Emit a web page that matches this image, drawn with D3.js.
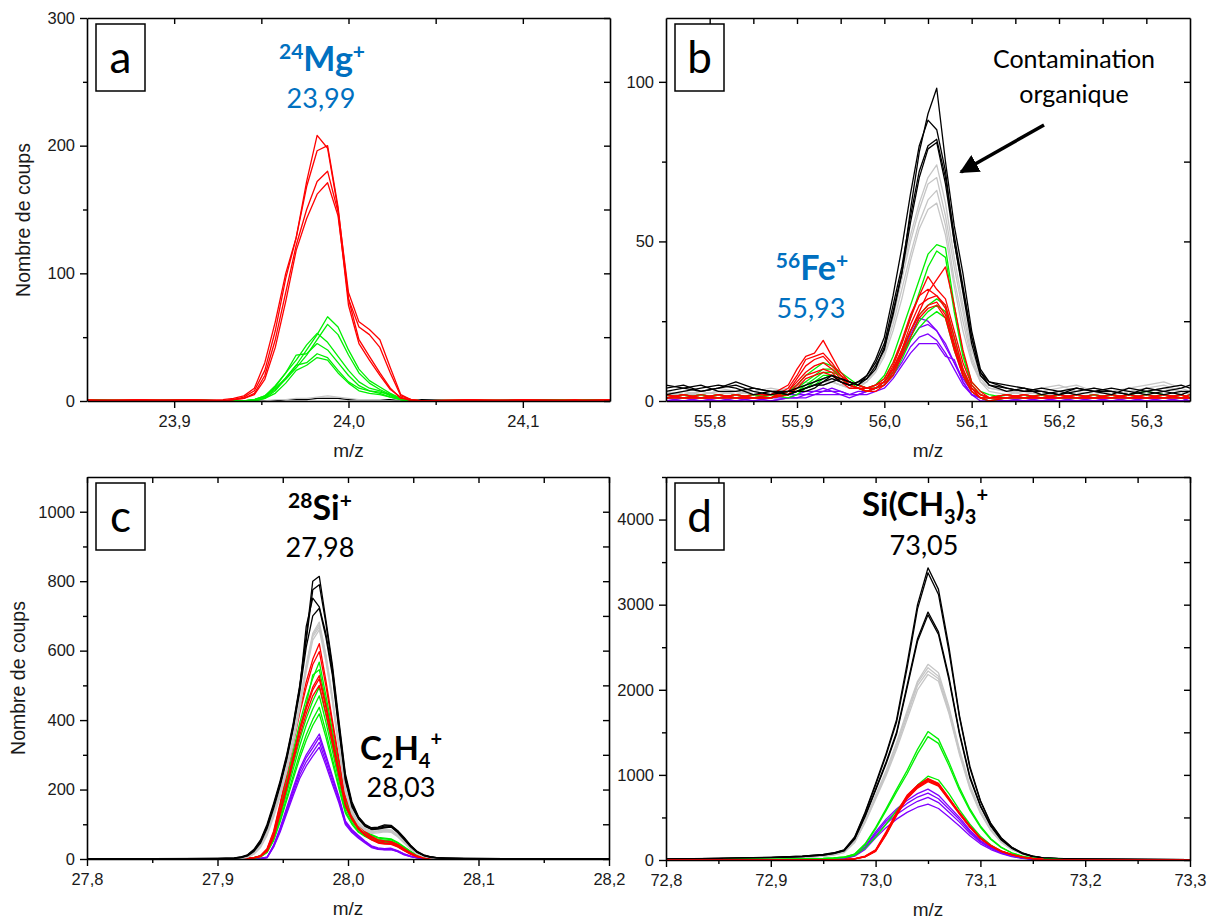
<!DOCTYPE html>
<html><head><meta charset="utf-8">
<script src="https://cdn.jsdelivr.net/npm/d3@7"></script>
<style>body{margin:0;background:#fff}</style>
</head><body><svg id="c" width="1210" height="921"></svg>
<script>
// ---------------- Panel a : 24Mg+ ----------------
const aMz = [23.850,23.880,23.910,23.928,23.934,23.940,23.946,23.952,23.958,23.964,23.970,23.976,23.982,23.988,23.994,24.000,24.006,24.012,24.018,24.024,24.030,24.036,24.042,24.070,24.100,24.130,24.150];
const aRed = [
 [0,1,0,1,2,4,10,30,62,100,128,172,208,198,150,85,62,56,48,26,5,1,0,1,0,1,0],
 [1,0,1,0,1,3,8,24,55,96,128,168,196,200,152,80,58,52,42,22,4,1,0,0,1,0,1],
 [0,0,1,0,1,2,6,20,48,85,122,150,172,180,148,75,45,32,20,9,3,0,0,1,0,0,1],
 [0,1,0,0,1,2,5,17,42,78,118,143,162,171,145,80,48,35,22,10,2,1,0,0,1,0,0]];
const aGreen = [
 [0,0,0,0,0,0,1,4,10,18,28,40,52,66,58,40,25,16,11,6,2,1,0,0,0,1,0],
 [0,0,1,0,0,0,1,3,9,17,26,36,48,60,52,36,22,14,9,5,2,0,0,0,1,0,0],
 [0,1,0,0,0,0,1,4,12,22,32,44,53,46,35,24,15,10,8,4,1,0,0,0,0,0,1],
 [0,0,0,0,0,0,1,3,11,22,36,37,45,40,30,20,12,8,7,5,1,0,0,1,0,0,0],
 [1,0,0,0,0,0,0,2,8,18,28,30,37,34,24,15,10,8,6,3,1,0,0,0,0,1,0],
 [0,0,0,0,0,0,0,2,6,14,24,28,34,32,22,14,8,6,5,3,1,0,0,0,0,0,0]];
const aGray = [[0,0,0,0,0,0,0,0,1,1,2,2,3,4,3,2,1,1,1,0,0,0,0,0,0,0,0]];
const aBlack = [[1,0,1,0,0,0,0,0,0,1,1,1,2,2,2,1,1,1,1,1,0,0,1,0,1,1,1]];
const aXTicks = [23.9,24.0,24.1], aXMinor = [23.95,24.05];
const aYTicks = [0,100,200,300], aYMinor = [50,150,250];

// ---------------- Panel b : 56Fe+ ----------------
const bMz = [55.75,55.77,55.79,55.81,55.83,55.85,55.87,55.89,55.90,55.91,55.92,55.93,55.94,55.95,55.96,55.97,55.98,55.99,56.00,56.01,56.02,56.03,56.04,56.05,56.06,56.07,56.08,56.09,56.10,56.11,56.12,56.14,56.16,56.18,56.20,56.22,56.24,56.26,56.28,56.30,56.32,56.34,56.35];
const bBlack = [
 [4,5,3,4,5,3,2,3,3,4,5,5,6,7,6,5,7,10,17,27,40,60,78,90,98,75,55,40,22,10,6,5,4,3,2,3,4,3,2,3,4,5,4],
 [3,4,5,3,3,4,3,2,3,4,5,6,7,6,5,6,8,12,18,30,42,58,72,80,82,70,52,36,20,9,6,4,3,4,3,2,3,4,3,2,3,4,5],
 [2,3,4,5,4,2,3,3,4,5,6,7,8,6,5,6,7,11,16,28,40,56,70,79,81,68,50,34,18,8,5,3,4,2,3,4,3,2,4,3,2,3,3],
 [5,4,3,4,6,4,3,2,3,3,4,6,8,7,6,5,8,13,20,33,48,65,80,88,85,72,50,35,20,9,5,4,3,3,2,4,3,3,2,4,3,2,3]];
const bGray = [
 [3,2,3,4,3,2,3,4,5,6,5,6,7,6,5,6,8,12,18,28,40,52,62,70,74,62,45,30,16,8,5,4,3,4,5,3,4,3,4,5,6,4,3],
 [2,3,2,3,2,3,4,3,4,5,6,7,6,5,6,5,7,11,16,26,38,50,60,68,70,58,42,28,14,7,4,3,2,3,4,5,3,2,3,4,5,3,2],
 [2,2,3,2,3,3,2,3,4,4,5,6,6,5,4,5,6,10,15,24,35,46,56,63,66,55,38,25,13,6,4,3,3,2,3,4,3,2,3,3,4,3,2],
 [3,2,2,3,2,4,3,3,3,4,5,5,6,5,4,4,6,9,14,22,32,44,54,60,62,52,36,22,12,6,3,2,3,2,2,3,2,3,2,3,4,3,2]];
const bGreen = [
 [1,2,1,2,1,2,1,3,5,8,10,12,11,9,7,5,4,5,8,14,22,30,38,46,49,48,30,15,6,3,2,1,2,1,2,1,2,1,2,3,2,1,2],
 [2,1,2,1,2,1,2,2,4,6,8,10,10,8,6,5,4,5,7,12,18,26,34,42,47,45,28,14,5,2,1,2,1,2,1,2,1,2,1,2,1,2,1],
 [1,1,2,1,1,2,1,2,3,5,7,9,9,8,6,5,4,4,6,10,16,22,27,30,32,30,20,10,4,2,1,1,1,2,1,1,2,1,1,2,1,1,1],
 [1,2,1,1,2,1,1,2,3,4,6,8,8,7,6,4,3,4,6,9,15,20,25,28,30,28,18,9,3,1,1,2,1,1,2,1,1,2,1,1,2,1,1],
 [2,1,1,2,1,1,2,1,2,4,5,7,8,7,5,4,3,4,5,8,13,19,23,26,28,26,16,8,3,1,0,1,1,2,1,1,1,1,2,1,1,2,1]];
const bRed = [
 [1,2,1,2,1,1,2,5,10,14,15,19,14,9,6,5,4,5,6,10,16,22,28,34,38,42,30,16,6,3,1,1,2,1,1,2,1,1,2,1,1,2,1],
 [2,1,1,1,2,1,1,4,8,13,14,15,12,8,6,5,4,4,6,11,18,26,33,39,35,32,22,12,5,2,1,2,1,1,2,1,1,2,1,1,2,1,2],
 [1,1,2,1,1,2,2,3,7,11,13,14,11,8,5,4,4,5,7,12,19,27,33,35,33,30,20,10,4,2,1,1,1,2,1,1,2,1,1,1,2,1,1],
 [1,2,1,1,1,1,1,3,6,9,11,12,10,7,5,4,3,4,6,10,16,24,30,32,33,29,18,9,4,1,1,1,2,1,1,1,1,2,1,1,1,2,1],
 [2,1,1,2,1,1,1,2,5,8,9,10,9,6,4,4,3,4,5,9,15,22,27,30,31,27,17,8,3,1,1,2,1,1,1,2,1,1,1,2,1,1,1],
 [1,1,1,1,2,1,1,2,4,7,8,9,8,6,5,4,3,3,5,8,14,20,26,29,30,26,16,8,3,1,0,1,1,1,2,1,1,1,2,1,1,1,1]];
const bPurple = [
 [0,0,1,0,0,1,1,2,2,3,3,4,3,3,2,2,3,4,6,10,15,21,26,25,22,17,12,7,3,1,0,0,1,0,0,0,1,0,0,0,1,0,0],
 [0,1,0,0,1,0,1,1,2,2,3,3,4,3,2,3,3,4,5,9,14,19,23,24,22,18,12,6,2,1,0,1,0,0,1,0,0,1,0,0,0,1,0],
 [1,0,0,1,0,0,0,1,1,2,2,3,3,2,2,2,3,4,5,8,12,17,20,21,19,15,10,5,2,0,0,0,0,1,0,0,0,0,1,0,0,0,1],
 [0,0,0,0,0,1,0,1,1,1,2,2,2,2,1,2,2,3,4,7,11,15,18,18,18,14,13,6,2,1,0,0,0,0,0,1,0,0,0,1,0,0,0]];
const bXTicks = [55.8,55.9,56.0,56.1,56.2,56.3], bXMinor = [55.85,55.95,56.05,56.15,56.25];
const bYTicks = [0,50,100], bYMinor = [25,75];

// ---------------- Panel c : 28Si+ ----------------
const cMz = [27.800,27.850,27.900,27.913,27.918,27.923,27.928,27.933,27.938,27.943,27.948,27.953,27.958,27.963,27.968,27.973,27.978,27.983,27.988,27.993,27.998,28.003,28.008,28.013,28.018,28.023,28.028,28.033,28.038,28.043,28.048,28.053,28.058,28.063,28.068,28.075,28.090,28.120,28.150,28.200];
const cBlack = [
 [0,1,2,3,6,12,28,55,100,160,225,300,390,500,640,800,814,690,560,400,245,165,122,100,90,92,98,97,82,62,40,22,12,7,4,3,2,1,1,1],
 [1,0,2,3,5,11,26,52,95,155,220,295,385,495,630,775,790,680,550,390,238,160,120,98,88,90,95,96,80,60,38,21,11,6,4,2,2,1,1,0],
 [0,1,1,2,5,10,25,50,92,150,215,290,380,490,670,751,726,650,540,380,230,155,118,96,86,88,92,94,78,58,36,20,10,6,3,2,1,1,0,1],
 [1,0,1,2,4,9,22,46,88,145,210,285,375,480,610,700,722,640,530,370,225,150,115,94,85,86,90,92,76,56,35,19,10,5,3,2,1,0,1,0]];
const cGray = [
 [0,0,1,1,3,7,18,40,80,135,195,265,350,450,560,650,682,590,470,330,205,140,105,88,80,82,85,84,70,52,32,17,9,5,3,2,1,1,0,0],
 [0,0,0,1,2,6,16,38,76,130,190,260,345,445,555,645,675,585,465,325,200,137,102,86,78,80,83,82,68,50,30,16,8,4,2,1,1,0,0,0],
 [0,0,0,1,2,5,15,35,72,125,185,255,340,440,550,640,668,578,460,320,196,134,100,84,76,78,80,79,66,48,29,15,8,4,2,1,1,0,0,0],
 [0,0,0,0,2,5,14,33,68,120,180,250,332,430,540,630,660,570,455,315,192,130,98,82,74,75,78,77,64,46,28,14,7,4,2,1,0,0,0,0]];
const cRed = [
 [0,0,0,1,1,2,4,10,30,80,160,250,340,430,510,575,620,515,400,290,180,135,100,80,65,55,52,50,42,30,18,9,4,2,1,1,0,0,0,0],
 [0,0,0,0,1,2,4,9,28,76,155,240,330,420,495,560,597,500,390,282,175,130,97,78,63,53,50,48,40,28,17,8,4,2,1,1,0,0,0,0],
 [0,0,0,0,1,1,3,8,25,68,138,215,295,375,440,495,528,445,350,255,160,120,90,72,58,49,46,45,37,26,15,7,3,2,1,0,0,0,0,0],
 [0,0,0,0,0,1,3,8,24,66,135,210,290,368,432,487,519,438,345,250,157,118,88,70,57,48,45,44,36,25,14,7,3,1,1,0,0,0,0,0],
 [0,0,0,0,0,1,3,7,22,62,130,202,280,355,418,470,500,422,332,240,152,114,85,68,55,46,43,42,35,24,14,6,3,1,0,0,0,0,0,0]];
const cGreen = [
 [0,0,0,0,1,2,4,9,27,72,145,228,310,392,462,520,567,472,372,268,170,128,98,82,70,62,60,58,48,35,22,11,5,2,1,1,0,0,0,0],
 [0,0,0,0,1,1,4,9,26,70,140,220,300,378,445,530,545,455,360,260,165,124,95,80,68,60,58,56,46,34,21,10,5,2,1,0,0,0,0,0],
 [0,0,0,0,0,1,3,8,23,63,127,200,272,344,405,455,495,415,328,238,152,114,88,74,63,56,54,52,43,31,19,9,4,2,1,0,0,0,0,0],
 [0,0,0,0,0,1,3,7,22,60,120,190,258,326,385,432,470,395,312,226,146,110,85,71,61,54,52,50,41,30,18,9,4,2,1,0,0,0,0,0],
 [0,0,0,0,0,1,3,7,20,55,112,176,240,303,358,402,437,368,290,212,138,104,80,67,58,51,49,47,39,28,17,8,4,2,1,0,0,0,0,0],
 [0,0,0,0,0,1,2,6,19,53,107,168,230,290,342,385,418,352,278,203,132,100,77,65,56,49,47,45,37,27,16,8,3,1,1,0,0,0,0,0]];
const cPurple = [
 [0,0,0,0,0,0,1,2,5,40,90,148,205,260,300,330,360,300,240,180,110,85,68,52,38,32,30,31,24,15,8,4,2,1,0,0,0,0,0,0],
 [0,0,0,0,0,0,1,2,5,38,86,142,198,252,292,320,350,292,233,175,107,82,66,50,36,30,28,29,23,14,8,4,2,1,0,0,0,0,0,0],
 [0,0,0,0,0,0,1,2,4,36,82,136,190,242,280,308,336,280,224,168,103,79,63,48,35,29,27,28,22,13,7,3,2,1,0,0,0,0,0,0],
 [0,0,0,0,0,0,0,1,4,34,78,130,182,232,268,296,322,270,215,162,99,76,60,46,33,28,26,27,21,12,7,3,1,1,0,0,0,0,0,0]];
const cXTicks = [27.8,27.9,28.0,28.1,28.2], cXMinor = [27.85,27.95,28.05,28.15];
const cYTicks = [0,200,400,600,800,1000], cYMinor = [100,300,500,700,900];

// ---------------- Panel d : Si(CH3)3+ ----------------
const dMz = [72.80,72.85,72.90,72.93,72.95,72.96,72.97,72.98,72.99,73.00,73.01,73.02,73.03,73.04,73.05,73.06,73.07,73.08,73.09,73.10,73.11,73.12,73.13,73.14,73.15,73.16,73.18,73.20,73.25,73.30];
const dBlack = [
 [10,18,30,45,65,85,120,270,560,900,1250,1650,2300,3000,3433,3180,2500,1700,1100,700,430,260,150,85,45,25,15,10,8,5],
 [12,20,32,44,62,82,115,260,550,880,1230,1620,2250,2950,3375,3120,2450,1680,1080,690,420,255,148,82,44,24,14,10,7,5],
 [10,18,28,40,58,78,110,250,520,830,1150,1500,2050,2600,2913,2680,2150,1500,980,640,400,240,140,78,42,24,14,9,7,4],
 [9,17,27,40,57,76,108,245,510,820,1130,1480,2020,2570,2880,2650,2120,1480,960,630,395,235,138,76,41,23,13,9,6,4]];
const dGray = [
 [6,12,22,32,48,65,95,220,470,760,1050,1380,1750,2100,2299,2200,1800,1300,880,580,360,220,130,75,40,22,12,8,5,3],
 [6,12,20,30,46,62,92,215,460,745,1030,1360,1720,2080,2260,2160,1770,1280,865,570,355,215,127,73,39,21,12,8,5,3],
 [5,11,20,30,45,60,90,210,450,730,1010,1330,1690,2050,2220,2130,1740,1260,850,560,350,210,125,72,38,21,11,7,5,3],
 [5,10,18,28,44,58,88,205,440,715,990,1300,1650,2000,2180,2100,1720,1240,835,550,345,205,122,70,37,20,11,7,4,3]];
const dGreen = [
 [3,5,8,12,18,25,35,70,190,380,600,830,1050,1300,1509,1420,1150,850,600,400,250,150,85,45,22,10,5,3,2,1],
 [3,5,8,12,18,24,34,68,180,365,580,800,1010,1250,1450,1370,1110,820,580,385,240,145,82,43,21,10,5,3,2,1],
 [2,4,6,9,14,19,28,55,140,270,420,580,730,880,985,940,780,590,420,280,175,105,60,32,16,8,4,2,1,1]];
const dRed = [
 [0,0,0,1,2,3,5,15,45,120,330,560,760,880,958,900,730,560,400,260,170,105,65,35,18,8,3,1,0,0],
 [0,0,0,1,2,3,5,14,42,115,320,550,750,875,950,895,725,555,395,258,168,104,64,34,17,8,3,1,0,0],
 [0,0,0,1,2,3,5,13,40,110,310,540,740,865,940,885,720,550,392,255,166,102,63,33,17,7,3,1,0,0],
 [0,0,0,0,1,2,4,12,38,105,300,530,730,855,930,875,712,545,388,252,164,100,62,33,16,7,3,1,0,0],
 [0,0,0,0,1,2,4,12,36,100,295,520,720,845,920,868,705,540,385,250,162,99,61,32,16,7,3,1,0,0]];
const dPurple = [
 [0,0,0,2,5,10,20,60,160,330,480,600,700,780,833,760,630,500,350,230,150,90,50,25,12,5,2,1,0,0],
 [0,0,0,2,5,9,18,55,150,310,455,570,665,740,786,720,600,475,335,220,143,86,48,24,11,5,2,1,0,0],
 [0,0,0,2,4,8,17,50,140,290,425,535,620,690,735,675,560,445,315,208,135,82,45,22,10,4,2,1,0,0],
 [0,0,0,1,4,7,15,45,125,260,380,480,560,620,657,605,505,400,285,190,123,75,41,20,9,4,2,1,0,0]];
const dXTicks = [72.8,72.9,73.0,73.1,73.2,73.3], dXMinor = [72.85,72.95,73.05,73.15,73.25];
const dYTicks = [0,1000,2000,3000,4000], dYMinor = [500,1500,2500,3500,4500];

// ---------------- colours ----------------
const C = {red:"#ff0000", green:"#00f000", gray:"#c6c6c6", black:"#000000", purple:"#8000ff", blue:"#0070c0"};

// ---------------- drawing ----------------
const svg = d3.select("#c");
const loc = d3.formatLocale({decimal:",", thousands:"", grouping:[3], currency:["",""]});
const f1 = loc.format(".1f");
const AX_FONT = "'Liberation Sans', Arial, sans-serif";
const TXT_FONT = "Lato, 'Open Sans', sans-serif";

function styleAxis(sel){
  sel.attr("font-family", AX_FONT).attr("font-size", 16.5);
  sel.selectAll("path.domain").attr("stroke","#000").attr("stroke-width",1.6);
  sel.selectAll(".tick line").attr("stroke","#000").attr("stroke-width",1.4);
  sel.selectAll(".tick text").attr("fill","#1a1a1a");
}

function drawPanel(p){
  const x = d3.scaleLinear().domain(p.xDomain).range([p.x0, p.x1]);
  const y = d3.scaleLinear().domain(p.yDomain).range([p.y1, p.y0]);
  const clipId = "clip" + p.id;
  svg.append("clipPath").attr("id", clipId).append("rect")
    .attr("x", p.x0).attr("y", p.y0).attr("width", p.x1 - p.x0).attr("height", p.y1 - p.y0);
  const line = d3.line().x((d,i) => x(p.mz[i])).y(d => y(d));
  const lg = svg.append("g").attr("clip-path", `url(#${clipId})`);
  p.groups.forEach(gr => gr.series.forEach(s => {
    lg.append("path").attr("d", line(s)).attr("fill","none")
      .attr("stroke", gr.color).attr("stroke-width", 1.3).attr("stroke-linejoin","round");
  }));
  // bottom axis
  const gb = svg.append("g").attr("transform", `translate(0,${p.y1})`)
    .call(d3.axisBottom(x).tickValues(p.xTicks).tickSize(7).tickSizeOuter(0).tickPadding(7).tickFormat(f1));
  styleAxis(gb);
  const gbm = svg.append("g").attr("transform", `translate(0,${p.y1})`)
    .call(d3.axisBottom(x).tickValues(p.xMinor).tickSize(4).tickFormat(""));
  gbm.select(".domain").remove(); styleAxis(gbm);
  // top axis (inward)
  const gt = svg.append("g").attr("transform", `translate(0,${p.y0})`)
    .call(d3.axisTop(x).tickValues(p.xTicks.concat(p.xMinor)).tickSize(-6).tickSizeOuter(0).tickFormat(""));
  styleAxis(gt);
  // left axis
  const gl = svg.append("g").attr("transform", `translate(${p.x0},0)`)
    .call(d3.axisLeft(y).tickValues(p.yTicks).tickSize(7).tickSizeOuter(0).tickPadding(5).tickFormat(d3.format("d")));
  styleAxis(gl);
  const glm = svg.append("g").attr("transform", `translate(${p.x0},0)`)
    .call(d3.axisLeft(y).tickValues(p.yMinor).tickSize(4).tickFormat(""));
  glm.select(".domain").remove(); styleAxis(glm);
  // right axis (inward)
  const gr = svg.append("g").attr("transform", `translate(${p.x1},0)`)
    .call(d3.axisRight(y).tickValues(p.yTicks.concat(p.yMinor)).tickSize(-6).tickSizeOuter(0).tickFormat(""));
  styleAxis(gr);
  // x title
  svg.append("text").attr("x", (p.x0 + p.x1) / 2).attr("y", p.y1 + 56)
    .attr("text-anchor","middle").attr("font-family", AX_FONT).attr("font-size", 19).attr("fill","#1a1a1a").text("m/z");
  if (p.yTitle) {
    svg.append("text").attr("transform", `translate(${p.yTitleX},${p.yTitleY}) rotate(-90)`)
      .attr("text-anchor","middle").attr("font-family", AX_FONT).attr("font-size", 19.5).attr("fill","#1a1a1a").text(p.yTitle);
  }
  // letter box
  svg.append("rect").attr("x", p.x0 + 9).attr("y", p.y0 + 6).attr("width", 49).attr("height", 67)
    .attr("fill","#fff").attr("stroke","#000").attr("stroke-width",1.5);
  svg.append("text").attr("x", p.x0 + 33.5).attr("y", p.y0 + 55).attr("text-anchor","middle")
    .attr("font-family", TXT_FONT).attr("font-size", 44).attr("fill","#000").text(p.letter);
  return {x, y};
}

function rich(xc, yb, parts, fill){
  const t = svg.append("text").attr("x", xc).attr("y", yb).attr("text-anchor","middle")
    .attr("fill", fill).attr("font-family", TXT_FONT);
  parts.forEach(pp => t.append("tspan").text(pp.t).attr("font-size", pp.s)
    .attr("font-weight", pp.w || "normal").attr("dy", pp.dy || 0));
}

drawPanel({id:"a", x0:87, x1:610, y0:18, y1:401, xDomain:[23.85,24.15], yDomain:[0,300],
  mz:aMz, xTicks:aXTicks, xMinor:aXMinor, yTicks:aYTicks, yMinor:aYMinor, letter:"a",
  yTitle:"Nombre de coups", yTitleX:30, yTitleY:220,
  groups:[{color:C.black, series:aBlack},{color:C.gray, series:aGray},{color:C.green, series:aGreen},{color:C.red, series:aRed}]});

drawPanel({id:"b", x0:666, x1:1190, y0:18, y1:401, xDomain:[55.75,56.35], yDomain:[0,120],
  mz:bMz, xTicks:bXTicks, xMinor:bXMinor, yTicks:bYTicks, yMinor:bYMinor, letter:"b",
  groups:[{color:C.purple, series:bPurple},{color:C.gray, series:bGray},{color:C.green, series:bGreen},{color:C.red, series:bRed},{color:C.black, series:bBlack}]});

drawPanel({id:"c", x0:87, x1:609, y0:477, y1:859, xDomain:[27.8,28.2], yDomain:[0,1100],
  mz:cMz, xTicks:cXTicks, xMinor:cXMinor, yTicks:cYTicks, yMinor:cYMinor, letter:"c",
  yTitle:"Nombre de coups", yTitleX:25, yTitleY:678,
  groups:[{color:C.purple, series:cPurple},{color:C.green, series:cGreen},{color:C.red, series:cRed},{color:C.gray, series:cGray},{color:C.black, series:cBlack}]});

drawPanel({id:"d", x0:666, x1:1190, y0:477, y1:860, xDomain:[72.8,73.3], yDomain:[0,4500],
  mz:dMz, xTicks:dXTicks, xMinor:dXMinor, yTicks:dYTicks, yMinor:dYMinor, letter:"d",
  groups:[{color:C.purple, series:dPurple},{color:C.gray, series:dGray},{color:C.black, series:dBlack},{color:C.green, series:dGreen},{color:C.red, series:dRed}]});

// annotations
rich(322, 71, [{t:"24", s:21, w:"bold", dy:-12},{t:"Mg", s:34, w:"bold", dy:12},{t:"+", s:21, w:"bold", dy:-12}], C.blue);
rich(321, 108, [{t:"23,99", s:27}], C.blue);
rich(812, 280, [{t:"56", s:21, w:"bold", dy:-12},{t:"Fe", s:34, w:"bold", dy:12},{t:"+", s:21, w:"bold", dy:-12}], C.blue);
rich(811, 318, [{t:"55,93", s:27}], C.blue);
rich(1074, 68, [{t:"Contamination", s:25}], "#000");
rich(1074, 103, [{t:"organique", s:25}], "#000");
rich(320, 520, [{t:"28", s:21, w:"bold", dy:-12},{t:"Si", s:34, w:"bold", dy:12},{t:"+", s:21, w:"bold", dy:-12}], "#000");
rich(320, 557, [{t:"27,98", s:27}], "#000");
rich(401, 760, [{t:"C", s:33, w:"bold"},{t:"2", s:20, w:"bold", dy:8},{t:"H", s:33, w:"bold", dy:-8},{t:"4", s:20, w:"bold", dy:8},{t:"+", s:20, w:"bold", dy:-22}], "#000");
rich(401, 797, [{t:"28,03", s:27}], "#000");
rich(925, 516, [{t:"Si(CH", s:33, w:"bold"},{t:"3", s:20, w:"bold", dy:8},{t:")", s:33, w:"bold", dy:-8},{t:"3", s:20, w:"bold", dy:8},{t:"+", s:20, w:"bold", dy:-22}], "#000");
rich(924, 555, [{t:"73,05", s:27}], "#000");

// arrow
svg.append("defs").append("marker").attr("id","ah").attr("viewBox","0 0 10 10").attr("refX",9).attr("refY",5)
  .attr("markerWidth",5.5).attr("markerHeight",5.5).attr("orient","auto")
  .append("path").attr("d","M0,0 L10,5 L0,10 z").attr("fill","#000");
svg.append("line").attr("x1",1044).attr("y1",125).attr("x2",961).attr("y2",172)
  .attr("stroke","#000").attr("stroke-width",3.5).attr("marker-end","url(#ah)");
</script></body></html>
